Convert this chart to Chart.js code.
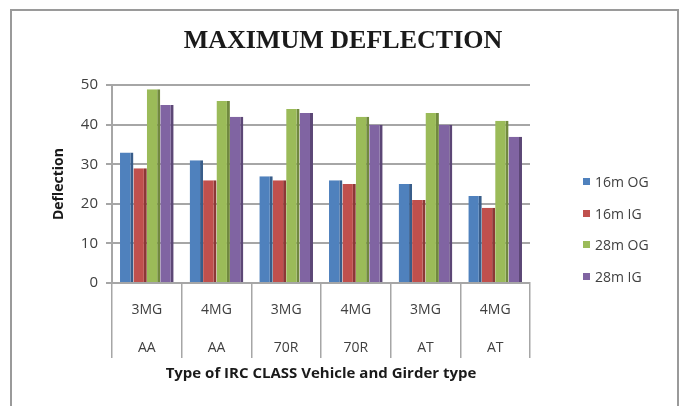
<!DOCTYPE html>
<html>
<head>
<meta charset="utf-8">
<title>Maximum Deflection</title>
<script src="https://cdn.jsdelivr.net/npm/chart.js@4.4.1/dist/chart.umd.min.js"></script>
<style>
  html, body { margin: 0; padding: 0; background: #fff; }
  #wrap { position: relative; width: 684px; height: 406px; overflow: hidden; background: #fff; }
  #frame { position: absolute; left: 10px; top: 9px; width: 669px; height: 420px;
           border: 2px solid #9a9a9a; box-sizing: border-box; pointer-events: none; }
  canvas { position: absolute; left: 0; top: 0; }
  #legend { position: absolute; left: 583px; top: 166px; margin: 0; padding: 0; list-style: none;
            font: 14px "Open Sans", sans-serif; color: #404040; }
  #legend li { display: flex; align-items: center; height: 31.5px; white-space: nowrap; }
  #legend .box { display: inline-block; width: 7px; height: 7px; margin-right: 5px; }
</style>
</head>
<body>
<div id="wrap">
  <canvas id="chart" width="684" height="406"></canvas>
  <div id="frame"></div>
  <ul id="legend"></ul>
</div>
<script>
// Girder type (first label row) and IRC class vehicle (second label row)
const girders  = ['3MG', '4MG', '3MG', '4MG', '3MG', '4MG'];
const vehicles = ['AA', 'AA', '70R', '70R', 'AT', 'AT'];

// Maximum deflection per span / girder position
const og16 = [33, 31, 27, 26, 25, 22];
const ig16 = [29, 26, 26, 25, 21, 19];
const og28 = [49, 46, 44, 42, 43, 41];
const ig28 = [45, 42, 43, 40, 40, 37];

const seriesNames = ['16m OG', '16m IG', '28m OG', '28m IG'];
const yTicks = [0, 10, 20, 30, 40, 50];

const faceColors = ['#4F81BD', '#C0504D', '#9BBB59', '#8064A2'];
const sideColors = ['#385D8A', '#8C3836', '#71893F', '#5C4776'];

const labels = girders.map((g, i) => [g, vehicles[i]]);
const seriesValues = [og16, ig16, og28, ig28];

const datasets = seriesValues.map((vals, i) => ({
  label: seriesNames[i],
  data: vals,
  backgroundColor: faceColors[i],
  borderColor: sideColors[i],
  borderWidth: { top: 0, right: 3, bottom: 0, left: 0 },
  borderSkipped: false,
  barPercentage: 1.0,
  categoryPercentage: 0.77
}));

// Legend rendered as HTML from the chart's own legend items
const htmlLegend = {
  id: 'htmlLegend',
  afterUpdate(chart) {
    const ul = document.getElementById('legend');
    ul.innerHTML = '';
    const items = chart.options.plugins.legend.labels.generateLabels(chart);
    items.forEach(item => {
      const li = document.createElement('li');
      const box = document.createElement('span');
      box.className = 'box';
      box.style.background = item.fillStyle;
      li.appendChild(box);
      li.appendChild(document.createTextNode(item.text));
      ul.appendChild(li);
    });
  }
};

const gridGray = '#a6a6a6';
const textGray = '#404040';

new Chart(document.getElementById('chart'), {
  type: 'bar',
  data: { labels, datasets },
  plugins: [htmlLegend],
  options: {
    responsive: false,
    animation: false,
    layout: { padding: { left: 2, right: 0, top: 0, bottom: 23 } },
    plugins: {
      legend: { display: false },
      tooltip: { enabled: false },
      title: {
        display: true,
        text: 'MAXIMUM DEFLECTION',
        color: '#1a1a1a',
        font: { family: '"Liberation Serif", "Times New Roman", serif', size: 26, weight: 'bold' },
        padding: { top: 26, bottom: 28 }
      }
    },
    scales: {
      x: {
        afterFit(scale) { scale.height = 100; },
        grid: { drawOnChartArea: false, drawTicks: true, tickLength: 75, color: gridGray, lineWidth: 1.5, offset: true },
        border: { display: true, color: gridGray, width: 2 },
        ticks: {
          font: { family: '"Open Sans", sans-serif', size: 14, lineHeight: '38px' },
          color: textGray,
          padding: -67,
          maxRotation: 0,
          autoSkip: false
        },
        title: {
          display: true,
          text: 'Type of IRC CLASS Vehicle and Girder type',
          color: '#1a1a1a',
          font: { family: '"Open Sans", sans-serif', size: 15, weight: 'bold' },
          padding: { top: 0, bottom: 0 }
        }
      },
      y: {
        min: 0,
        max: 50,
        afterBuildTicks(scale) { scale.ticks = yTicks.map(v => ({ value: v })); },
        afterFit(scale) { scale.width = 110; },
        grid: { color: gridGray, lineWidth: 2, tickLength: 6 },
        border: { display: true, color: gridGray, width: 2 },
        ticks: {
          font: { family: '"Open Sans", sans-serif', size: 15 },
          color: textGray,
          padding: 8
        },
        title: {
          display: true,
          text: 'Deflection',
          color: '#1a1a1a',
          font: { family: '"Open Sans", sans-serif', size: 14, weight: 'bold' },
          padding: { top: 49, bottom: 0 }
        }
      },
      // empty right-hand band that holds the legend column
      yRight: {
        position: 'right',
        display: true,
        afterFit(scale) { scale.width = 154; },
        grid: { display: false },
        border: { display: false },
        ticks: { display: false }
      }
    }
  }
});
</script>
</body>
</html>
